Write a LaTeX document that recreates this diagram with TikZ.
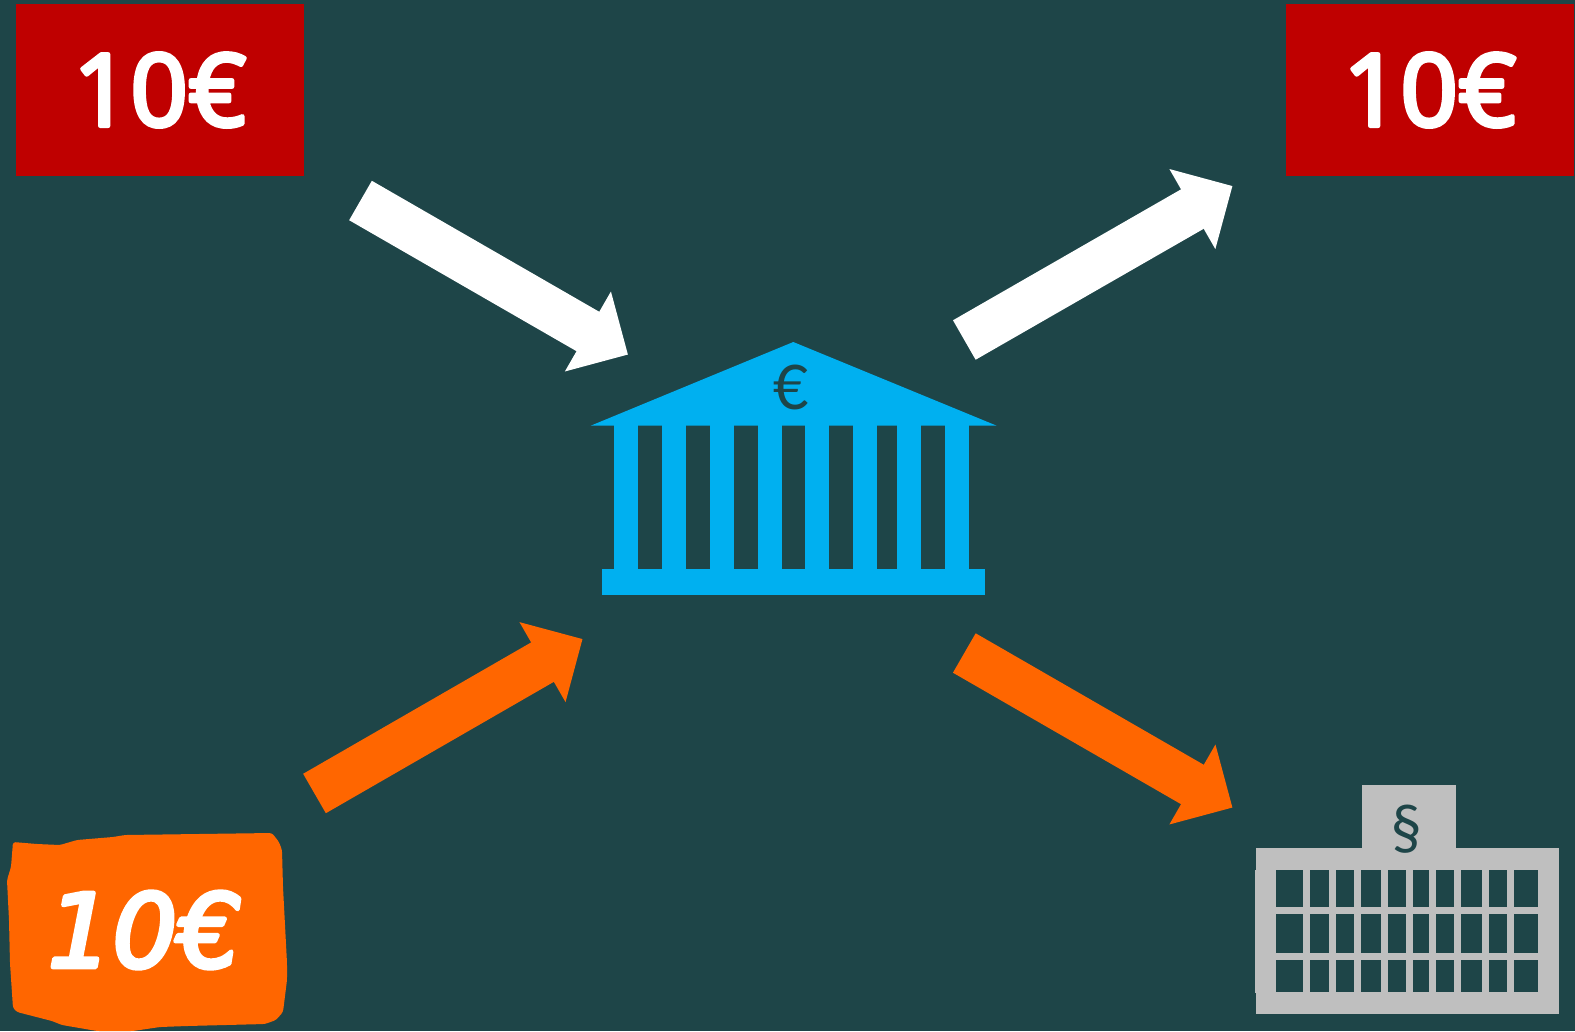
\documentclass[tikz,border=0pt]{standalone}
\usepackage{fontspec}
\usepackage{tikz}
\usetikzlibrary{arrows.meta}
\setmainfont{Open Sans}
\newfontfamily\handfont{DejaVu Sans}
\newfontfamily\thinfont{Lato}
\definecolor{ground}{HTML}{1E4548}
\definecolor{notered}{HTML}{BF0000}
\definecolor{bankblue}{HTML}{00B0F0}
\definecolor{payorange}{HTML}{FF6600}
\definecolor{stategrey}{HTML}{BFBFBF}
% text with a round outline
\newcommand{\roundtext}[2]{\special{pdf:code q 2 Tr #1 w 1 j 1 J}#2\special{pdf:code Q}}
\tikzset{
  note/.style={fill=notered, text=white, minimum width=5.76cm, minimum height=3.44cm, inner sep=0pt, font=\fontsize{57}{57}\selectfont},
  blockarr/.style={-{Triangle[length=0.926cm,width=1.79cm,sep=0pt]}, line width=0.91cm, draw=#1},
  sign/.style={font=\thinfont\fontsize{35}{35}\selectfont, text=ground, inner sep=0pt},
}
\begin{document}
\begin{tikzpicture}[x=0.02cm,y=-0.02cm]
    \fill[ground] (0,0) rectangle (1575,1031);
    \useasboundingbox (0,0) rectangle (1575,1031);

    % banknotes
    \node[note] (notein) at (160,90) {\roundtext{2.5}{10€}};
    \node[note] (noteout) at (1430,90) {\roundtext{2.5}{10€}};

    % handwritten note
    \fill[payorange, rounded corners=1.5pt] (13,842) -- (37,844) -- (60,845) -- (77,840) -- (113,837) -- (125,835) -- (272,833)
      -- (279,842) -- (282,850) -- (283,887) -- (287,963) -- (287,980) -- (283,1012) -- (276,1020) -- (265,1024)
      -- (187,1026) -- (160,1027) -- (133,1031) -- (97,1031) -- (62,1025) -- (52,1021) -- (17,1012) -- (13,1008)
      -- (10,963) -- (9,920) -- (7,880) -- (11,867) -- cycle;
    \node[font=\handfont\itshape\fontsize{58}{58}\selectfont, text=white, inner sep=0pt] (notehand) at (145,930) {\roundtext{2.5}{10€}};

    % bank
    \fill[bankblue] (590.7,425.7) -- (793.3,342) -- (996.7,425.7) -- cycle;
    \fill[bankblue] (602,569) rectangle (985,595);
    \foreach \x/\w in {614/24,662/24,710/24,758/24,805/24,853/24,897/24,945/24} {
      \fill[bankblue] (\x,425) rectangle ++(\w,145);
    }
    \node[sign] (banksign) at (791,387) {€};

    % state building
    \fill[stategrey] (1362,785) rectangle (1456,849);
    \fill[stategrey] (1256,848) rectangle (1559,1014);
    \fill[stategrey] (1255,870) rectangle (1257,993);
    \foreach \x/\w in {1276/27,1310/19,1336/18,1361/20,1388/18,1413/16,1436/18,1461/21,1489/18,1514/24} {
      \foreach \y/\h in {870/37,914/39,960/32} {
        \fill[ground] (\x,\y) rectangle ++(\w,\h);
      }
    }
    \node[sign] (statesign) at (1407,829) {§};

    % flows
    \coordinate (inwhite) at (360.5,200.5);
    \coordinate (bankwhite) at (628,354.6);
    \coordinate (outwhite) at (964.3,340);
    \coordinate (endwhite) at (1232.5,186);
    \coordinate (inorange) at (314.5,793.5);
    \coordinate (bankorange) at (582.6,639);
    \coordinate (outorange) at (964.3,653);
    \coordinate (endorange) at (1232.5,807.6);
    \draw[blockarr=white] (inwhite) -- (bankwhite);
    \draw[blockarr=white] (outwhite) -- (endwhite);
    \draw[blockarr=payorange] (inorange) -- (bankorange);
    \draw[blockarr=payorange] (outorange) -- (endorange);
  \end{tikzpicture}
\end{document}
